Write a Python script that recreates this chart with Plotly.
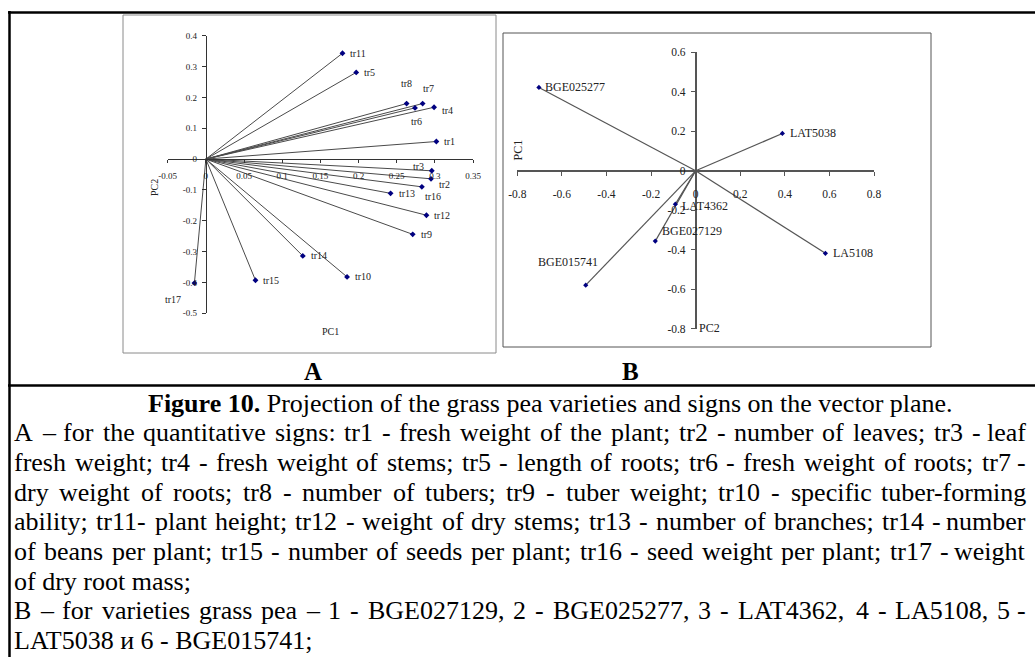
import plotly.graph_objects as go

W, H = 1035, 657

# ---------------- data ----------------
# Panel A: trait loadings (PC1, PC2)
traits = ["tr1", "tr2", "tr3", "tr4", "tr5", "tr6", "tr7", "tr8", "tr9", "tr10",
          "tr11", "tr12", "tr13", "tr14", "tr15", "tr16", "tr17"]
trait_pc1 = [0.302, 0.295, 0.296, 0.299, 0.197, 0.274, 0.284, 0.263, 0.271, 0.185,
             0.179, 0.289, 0.242, 0.127, 0.065, 0.283, -0.015]
trait_pc2 = [0.057, -0.064, -0.038, 0.168, 0.281, 0.166, 0.180, 0.180, -0.244, -0.382,
             0.343, -0.182, -0.111, -0.314, -0.393, -0.090, -0.402]

# Panel B: varieties
varieties = ["BGE025277", "LAT5038", "LA5108", "BGE015741", "BGE027129", "LAT4362"]
var_x = [-0.703, 0.389, 0.582, -0.493, -0.181, -0.091]
var_y = [0.422, 0.189, -0.418, -0.579, -0.356, -0.169]

# tick labels
a_xticks = [-0.05, 0, 0.05, 0.1, 0.15, 0.2, 0.25, 0.3, 0.35]
a_xtext = ["-0.05", "0", "0.05", "0.1", "0.15", "0.2", "0.25", "0.3", "0.35"]
a_yticks = [-0.5, -0.4, -0.3, -0.2, -0.1, 0, 0.1, 0.2, 0.3, 0.4]
a_ytext = ["-0.5", "-0.4", "-0.3", "-0.2", "-0.1", "0", "0.1", "0.2", "0.3", "0.4"]
b_xticks = [-0.8, -0.6, -0.4, -0.2, 0, 0.2, 0.4, 0.6, 0.8]
b_xtext = ["-0.8", "-0.6", "-0.4", "-0.2", "0", "0.2", "0.4", "0.6", "0.8"]
b_yticks = [-0.8, -0.6, -0.4, -0.2, 0, 0.2, 0.4, 0.6]
b_ytext = ["-0.8", "-0.6", "-0.4", "-0.2", "0", "0.2", "0.4", "0.6"]

caption_title = "<b>Figure 10.</b> Projection of the grass pea varieties and signs on the vector plane."
caption_lines = [
    "A – for the quantitative signs: tr1 - fresh weight of the plant; tr2 - number of leaves; tr3 - leaf",
    "fresh weight; tr4 - fresh weight of stems; tr5 - length of roots; tr6 - fresh weight of roots; tr7 -",
    "dry weight of roots; tr8 - number of tubers; tr9 - tuber weight; tr10 - specific tuber-forming",
    "ability; tr11- plant height; tr12 - weight of dry stems; tr13 - number of branches; tr14 - number",
    "of beans per plant; tr15 - number of seeds per plant; tr16 - seed weight per plant; tr17 - weight",
    "of dry root mass;",
    "B – for varieties grass pea – 1 - BGE027129, 2 - BGE025277, 3 - LAT4362, 4 - LA5108, 5 -",
    "LAT5038 и 6 - BGE015741;",
]
caption_justified = [True, True, True, True, True, False, True, False]

# ---------------- label placement (style) ----------------
a_label_style = {  # xanchor, xshift, yshift
    "tr1": ("left", 6, 0), "tr2": ("left", 6, -6), "tr3": ("center", -13, 4),
    "tr4": ("left", 6, -3), "tr5": ("left", 6, 0), "tr6": ("center", 2, -14),
    "tr7": ("center", 6, 15), "tr8": ("center", 0, 20), "tr9": ("left", 6, 0),
    "tr10": ("left", 6, 0), "tr11": ("left", 6, 0), "tr12": ("left", 6, 0),
    "tr13": ("left", 6, 0), "tr14": ("left", 6, 0), "tr15": ("left", 6, 0),
    "tr16": ("center", 11, -10), "tr17": ("center", -21, -16),
}
b_label_style = {
    "BGE025277": ("left", 4, 0), "LAT5038": ("left", 6, 0), "LA5108": ("left", 6, 0),
    "BGE015741": ("center", -18, 23), "BGE027129": ("left", 5, 10), "LAT4362": ("left", 5, -2),
}

SERIF = "Liberation Serif, Times New Roman, serif"


def px_x(p):
    return p / W


def px_y(p):
    return 1 - p / H


fig = go.Figure()

# ---- Panel A vectors ----
ax_l, ay_l = [], []
for x, y in zip(trait_pc1, trait_pc2):
    ax_l += [0, x, None]
    ay_l += [0, y, None]
fig.add_trace(go.Scatter(x=ax_l, y=ay_l, mode="lines", xaxis="x", yaxis="y",
                         line=dict(color="#4a4a4a", width=1), hoverinfo="skip"))
fig.add_trace(go.Scatter(x=trait_pc1, y=trait_pc2, mode="markers", xaxis="x", yaxis="y",
                         marker=dict(symbol="diamond", size=4.5, color="#000080"),
                         text=traits, hoverinfo="text", cliponaxis=False))

# ---- Panel B vectors ----
bx_l, by_l = [], []
for x, y in zip(var_x, var_y):
    bx_l += [0, x, None]
    by_l += [0, y, None]
fig.add_trace(go.Scatter(x=bx_l, y=by_l, mode="lines", xaxis="x2", yaxis="y2",
                         line=dict(color="#555555", width=1.2), hoverinfo="skip"))
fig.add_trace(go.Scatter(x=var_x, y=var_y, mode="markers", xaxis="x2", yaxis="y2",
                         marker=dict(symbol="diamond", size=4, color="#000080"),
                         text=varieties, hoverinfo="text", cliponaxis=False))

annotations = []
for name, x, y in zip(traits, trait_pc1, trait_pc2):
    xa, xs, ys = a_label_style[name]
    annotations.append(dict(x=x, y=y, xref="x", yref="y", text=name, showarrow=False,
                            xanchor=xa, yanchor="middle", xshift=xs, yshift=ys,
                            font=dict(family=SERIF, size=10, color="#222")))
for name, x, y in zip(varieties, var_x, var_y):
    xa, xs, ys = b_label_style[name]
    annotations.append(dict(x=x, y=y, xref="x2", yref="y2", text=name, showarrow=False,
                            xanchor=xa, yanchor="middle", xshift=xs, yshift=ys,
                            font=dict(family=SERIF, size=12, color="#222")))

# axis titles and panel letters
annotations += [
    dict(x=px_x(147), y=px_y(177), xref="paper", yref="paper", text="PC2", textangle=-90,
         showarrow=False, font=dict(family=SERIF, size=10, color="#222")),
    dict(x=px_x(320), y=px_y(331), xref="paper", yref="paper", text="PC1",
         showarrow=False, font=dict(family=SERIF, size=10, color="#222")),
    dict(x=px_x(517), y=px_y(138), xref="paper", yref="paper", text="PC1", textangle=-90,
         showarrow=False, font=dict(family=SERIF, size=12, color="#222")),
    dict(x=px_x(722), y=px_y(328), xref="paper", yref="paper", text="PC2",
         showarrow=False, font=dict(family=SERIF, size=12, color="#222")),
    dict(x=px_x(302), y=px_y(371), xref="paper", yref="paper", text="<b>A</b>",
         showarrow=False, font=dict(family=SERIF, size=25, color="#000")),
    dict(x=px_x(630), y=px_y(371), xref="paper", yref="paper", text="<b>B</b>",
         showarrow=False, font=dict(family=SERIF, size=25, color="#000")),
]

# ---- caption ----
CW = {' ': 250, ',': 250, '-': 333, '.': 250, ':': 278, ';': 278, '–': 500, 'и': 535}
for d in "0123456789":
    CW[d] = 500
CW.update(dict(zip("ABCDEFGHIJKLMNOPQRSTUVWXYZ",
                   [722, 667, 667, 722, 611, 556, 722, 722, 333, 389, 722, 611, 889, 722, 722,
                    556, 722, 667, 556, 611, 722, 722, 944, 722, 722, 611])))
CW.update(dict(zip("abcdefghijklmnopqrstuvwxyz",
                   [444, 500, 444, 500, 444, 333, 500, 500, 278, 278, 500, 278, 778, 500, 500,
                    500, 500, 333, 389, 278, 500, 500, 722, 500, 500, 444])))
CAP_SIZE = 26
CAP_LEFT, CAP_RIGHT = 13, 1027
CAP_Y0, CAP_DY = 403, 29.7


def wlen(s):
    return sum(CW.get(c, 500) for c in s) * CAP_SIZE / 1000


cap_font = dict(family=SERIF, size=CAP_SIZE, color="#000")
annotations.append(dict(x=px_x(550), y=px_y(CAP_Y0), xref="paper", yref="paper",
                        text=caption_title, showarrow=False, xanchor="center", yanchor="middle",
                        borderpad=0, font=cap_font))
for i, (line, just) in enumerate(zip(caption_lines, caption_justified)):
    yy = px_y(CAP_Y0 + CAP_DY * (i + 1))
    words = line.split(" ")
    if just and len(words) > 1:
        widths = [wlen(w) for w in words]
        gap = (CAP_RIGHT - CAP_LEFT - sum(widths)) / (len(words) - 1)
        pos = CAP_LEFT
        for k, (w, wd) in enumerate(zip(words, widths)):
            last = k == len(words) - 1
            annotations.append(dict(x=px_x(CAP_RIGHT if last else pos), y=yy,
                                    xref="paper", yref="paper", text=w, showarrow=False,
                                    xanchor="right" if last else "left", yanchor="middle",
                                    borderpad=0, font=cap_font))
            pos += wd + gap
    else:
        annotations.append(dict(x=px_x(CAP_LEFT), y=yy, xref="paper", yref="paper",
                                text=line, showarrow=False, xanchor="left", yanchor="middle",
                                borderpad=0, font=cap_font))

# ---- shapes: frames and table lines ----
shapes = [
    dict(type="rect", xref="paper", yref="paper", x0=px_x(123), x1=px_x(496),
         y0=px_y(353), y1=px_y(15), line=dict(color="#8a8a8a", width=1)),
    dict(type="rect", xref="paper", yref="paper", x0=px_x(503), x1=px_x(931),
         y0=px_y(347), y1=px_y(33), line=dict(color="#555555", width=1)),
    dict(type="line", xref="paper", yref="paper", x0=px_x(9.5), x1=px_x(9.5),
         y0=px_y(11), y1=0, line=dict(color="#000", width=2.5)),
    dict(type="line", xref="paper", yref="paper", x0=px_x(8), x1=1,
         y0=px_y(12.5), y1=px_y(12.5), line=dict(color="#000", width=2.5)),
    dict(type="line", xref="paper", yref="paper", x0=px_x(8), x1=1,
         y0=px_y(385.5), y1=px_y(385.5), line=dict(color="#000", width=2.5)),
]

# ---- axes ----
A_X = (167.7, 473.0)
A_Y = (35.7, 313.3)
B_X = (517.3, 874.0)
B_Y = (52.3, 328.8)

a_x0_pos = px_y(A_Y[0] + (A_Y[1] - A_Y[0]) * 0.4 / 0.9)     # y=0 line
a_y0_pos = px_x(A_X[0] + (A_X[1] - A_X[0]) * 0.05 / 0.4)     # x=0 line
b_x0_pos = px_y(B_Y[0] + (B_Y[1] - B_Y[0]) * 0.6 / 1.4)
b_y0_pos = px_x(B_X[0] + (B_X[1] - B_X[0]) * 0.8 / 1.6)

common = dict(showgrid=False, zeroline=False, showline=True, ticks="outside",
              fixedrange=True, anchor="free")

fig.update_layout(
    width=W, height=H, margin=dict(l=0, r=0, t=0, b=0, autoexpand=False),
    paper_bgcolor="white", plot_bgcolor="rgba(0,0,0,0)", showlegend=False,
    xaxis=dict(**common, domain=[px_x(A_X[0]), px_x(A_X[1])], range=[-0.05, 0.35],
               position=a_x0_pos, tickvals=a_xticks, ticktext=a_xtext, ticklen=3,
               linecolor="#333", linewidth=1.2, tickcolor="#333", ticklabelstandoff=5,
               tickfont=dict(family=SERIF, size=9, color="#222")),
    yaxis=dict(**common, domain=[px_y(A_Y[1]), px_y(A_Y[0])], range=[-0.5, 0.4],
               position=a_y0_pos, tickvals=a_yticks, ticktext=a_ytext, ticklen=4,
               linecolor="#333", linewidth=1.2, tickcolor="#333", ticklabelstandoff=3,
               tickfont=dict(family=SERIF, size=9, color="#222")),
    xaxis2=dict(**common, domain=[px_x(B_X[0]), px_x(B_X[1])], range=[-0.8, 0.8],
                position=b_x0_pos, tickvals=b_xticks, ticktext=b_xtext, ticklen=4,
                linecolor="#555", linewidth=1.5, tickcolor="#555", ticklabelstandoff=9,
                tickfont=dict(family=SERIF, size=11.5, color="#222")),
    yaxis2=dict(**common, domain=[px_y(B_Y[1]), px_y(B_Y[0])], range=[-0.8, 0.6],
                position=b_y0_pos, tickvals=b_yticks, ticktext=b_ytext, ticklen=4,
                linecolor="#555", linewidth=1.5, tickcolor="#555", ticklabelstandoff=3,
                tickfont=dict(family=SERIF, size=11.5, color="#222")),
    annotations=annotations,
    shapes=shapes,
)

fig.write_html("out.html",
               post_script="document.body.style.margin='0px';document.body.style.padding='0px';")
